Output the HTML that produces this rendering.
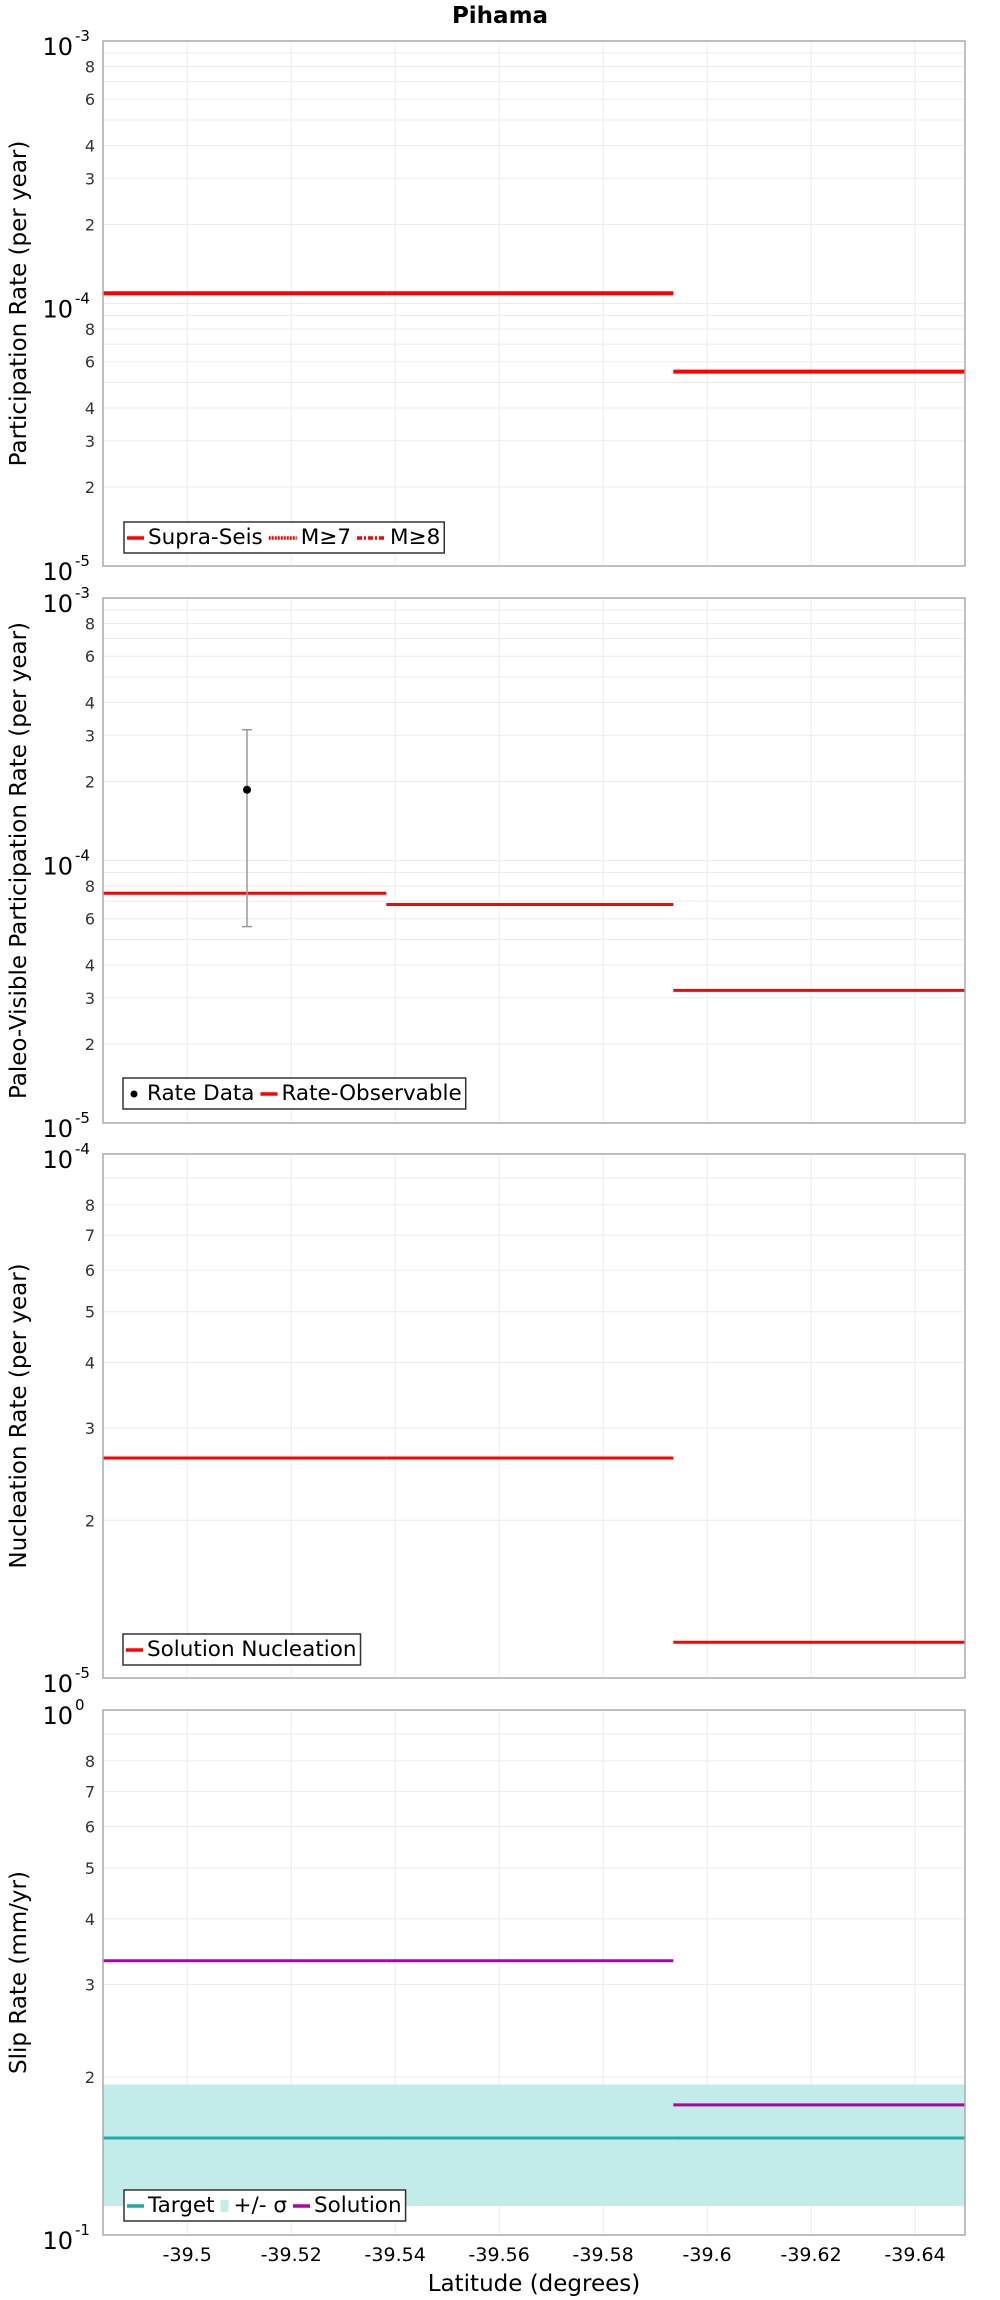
<!DOCTYPE html>
<html><head><meta charset="utf-8"><style>
html,body{margin:0;padding:0;background:#fff;width:1000px;height:2300px;overflow:hidden}
svg{display:block;font-family:"DejaVu Sans","Liberation Sans",sans-serif}
</style></head><body>
<svg id="chart" width="1000" height="2300" xmlns="http://www.w3.org/2000/svg"></svg>
<script>
// x axis
const xTicks = [-39.5,-39.52,-39.54,-39.56,-39.58,-39.6,-39.62,-39.64];
const xTickLabels = ["-39.5","-39.52","-39.54","-39.56","-39.58","-39.6","-39.62","-39.64"];
const xDomain = [-39.4838,-39.6496];
const segStarts = [-39.4838,-39.5383,-39.5935];
const segEnds = [-39.5383,-39.5935,-39.6496];
// panel 1
const p1Supra = [1.094e-4,1.094e-4,5.5e-5];
// panel 2
const p2Obs = [7.5e-5,6.8e-5,3.2e-5];
const p2DataLat = [-39.5115];
const p2DataVal = [1.86e-4];
const p2DataHi = [3.15e-4];
const p2DataLo = [5.6e-5];
// panel 3
const p3Nucl = [2.63e-5,2.63e-5,1.17e-5];
// panel 4
const p4Target = [0.153,0.153,0.153];
const p4Hi = [0.1935,0.1935,0.1935];
const p4Lo = [0.1135,0.1135,0.1135];
const p4Sol = [0.333,0.333,0.177];

const NS="http://www.w3.org/2000/svg";
const svg=document.getElementById('chart');
const L=103,R=965;
function mk(tag,attrs,parent,text){const e=document.createElementNS(NS,tag);for(const k in attrs)e.setAttribute(k,attrs[k]);if(text!==undefined)e.textContent=text;(parent||svg).appendChild(e);return e;}
function xs(v){return L+(v-xDomain[0])/(xDomain[1]-xDomain[0])*(R-L);}

const t=mk('text',{x:500,y:23,'text-anchor':'middle','font-size':23,'font-weight':'bold'},svg,'Pihama');



function panel(name,top,bot,lmin,lmax,minorLabels,ytitle){
  const g=mk('g',{});
  
  
  const ys=v=>bot-(Math.log10(v)-lmin)/(lmax-lmin)*(bot-top);
  mk('rect',{x:L,y:top,width:R-L,height:bot-top,fill:'#fff'},g);
  for(const xv of xTicks){mk('line',{x1:xs(xv),x2:xs(xv),y1:top,y2:bot,stroke:'#ebebeb','stroke-width':1},g);}
  for(let d=lmin;d<lmax;d++){for(let m=2;m<=9;m++){const y=ys(m*Math.pow(10,d));mk('line',{x1:L,x2:R,y1:y,y2:y,stroke:'#ebebeb','stroke-width':1},g);
    if(minorLabels.includes(m)){const tl=mk('text',{x:L-8,y:y+6,'text-anchor':'end','font-size':16,fill:'#333'},g,String(m));
      
      }}}
  for(let d=lmin;d<=lmax;d++){const y=ys(Math.pow(10,d));
    if(d>lmin&&d<lmax)mk('line',{x1:L,x2:R,y1:y,y2:y,stroke:'#ebebeb'},g);
    const tl=mk('text',{x:L-30,y:y+14,'text-anchor':'end','font-size':24},g,'10');
    
    
    mk('text',{x:L-28,y:y,'font-size':15},g,String(d));}
  const yt=mk('text',{x:0,y:0,'text-anchor':'middle','font-size':23,transform:`translate(26,${(top+bot)/2}) rotate(-90)`},g,ytitle);
  
  
  return {g,ys};
}
function steps(P,vals,color,w,name){
  for(let i=0;i<vals.length;i++){const l=mk('line',{x1:xs(segStarts[i]),x2:xs(segEnds[i]),y1:P.ys(vals[i]),y2:P.ys(vals[i]),stroke:color,'stroke-width':w},P.g);
    
    }
}
function frame(P,top,bot){mk('rect',{x:L,y:top,width:R-L,height:bot-top,fill:'none',stroke:'#aaa','stroke-width':1.5},P.g);}
function legend(P,x,y,items){
  const lg=mk('g',{},P.g);
  
  
  const box=mk('rect',{x:x,y:y,width:10,height:31,fill:'#fff',stroke:'#333','stroke-width':1.5},lg);
  let cx=x+3;
  for(const it of items){
    const e=mk('g',{},lg);
    
    
    let len;
    if(it.kind==='dot'){mk('circle',{cx:cx+8,cy:y+16,r:3.5,fill:'#000'},e);len=17;}
    else if(it.kind==='box'){mk('rect',{x:cx,y:y+10,width:8,height:12,fill:'#c2ecea'},e);len=9;}
    else {len=it.len||17;mk('line',{x1:cx,x2:cx+len,y1:y+16,y2:y+16,stroke:it.color,'stroke-width':3.5,'stroke-dasharray':it.dash||'none'},e);}
    const tx=mk('text',{x:cx+len+4,y:y+22,'font-size':21.5},e,it.label);
    cx+=len+4+tx.getComputedTextLength()+6;
  }
  box.setAttribute('width',cx-x-2);
}

// Panel 1
let P=panel('participation-panel',41,566,-5,-3,[2,3,4,6,8],'Participation Rate (per year)');
steps(P,p1Supra,'#ff0000',4,'supra-seis-line');
frame(P,41,566);
legend(P,124,522,[{color:'#f00',label:'Supra-Seis'},{color:'#f00',dash:'2,1',len:28,label:'M≥7'},{color:'#f00',dash:'5,2,2,2',len:29,label:'M≥8'}]);

// Panel 2
P=panel('paleo-panel',598,1123,-5,-3,[2,3,4,6,8],'Paleo-Visible Participation Rate (per year)');
steps(P,p2Obs,'#ff0000',3,'rate-observable-line');
for(let i=0;i<p2DataLat.length;i++){const x=xs(p2DataLat[i]);
  const eb=mk('g',{},P.g);
  
  
  mk('line',{x1:x,x2:x,y1:P.ys(p2DataHi[i]),y2:P.ys(p2DataLo[i]),stroke:'#999','stroke-width':1.5},eb);
  mk('line',{x1:x-5,x2:x+5,y1:P.ys(p2DataHi[i]),y2:P.ys(p2DataHi[i]),stroke:'#999','stroke-width':1.5},eb);
  mk('line',{x1:x-5,x2:x+5,y1:P.ys(p2DataLo[i]),y2:P.ys(p2DataLo[i]),stroke:'#999','stroke-width':1.5},eb);
  mk('circle',{cx:x,cy:P.ys(p2DataVal[i]),r:4,fill:'#000'},eb);}
frame(P,598,1123);
legend(P,123,1078,[{kind:'dot',label:'Rate Data'},{color:'#f00',label:'Rate-Observable'}]);

// Panel 3
P=panel('nucleation-panel',1154,1678,-5,-4,[2,3,4,5,6,7,8],'Nucleation Rate (per year)');
steps(P,p3Nucl,'#ff0000',3,'solution-nucleation-line');
frame(P,1154,1678);
legend(P,123,1634,[{color:'#f00',label:'Solution Nucleation'}]);

// Panel 4
P=panel('slip-rate-panel',1710,2235,-1,0,[2,3,4,5,6,7,8],'Slip Rate (mm/yr)');
for(let i=0;i<p4Hi.length;i++){const b=mk('rect',{x:xs(segStarts[i]),y:P.ys(p4Hi[i]),width:xs(segEnds[i])-xs(segStarts[i])+0.5,height:P.ys(p4Lo[i])-P.ys(p4Hi[i]),fill:'#c2ecea'},P.g);
  
  }
steps(P,p4Target,'#1aacac',3,'target-line');
steps(P,p4Sol,'#b000b0',3,'solution-line');
frame(P,1710,2235);
legend(P,124,2190,[{color:'#1aacac',label:'Target'},{kind:'box',label:'+/- σ'},{color:'#b000b0',label:'Solution'}]);

// x axis labels
for(let i=0;i<xTicks.length;i++){const tl=mk('text',{x:xs(xTicks[i]),y:2261,'text-anchor':'middle','font-size':19},svg,xTickLabels[i]);
  
  }
const xt=mk('text',{x:534,y:2291,'text-anchor':'middle','font-size':23},svg,'Latitude (degrees)');


</script>
</body></html>
